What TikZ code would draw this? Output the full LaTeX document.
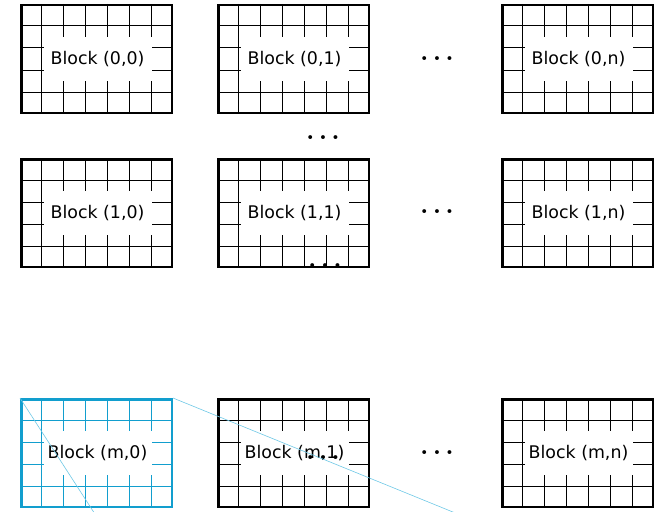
\documentclass[tikz,border=0pt]{standalone}
\usepackage{fontspec}
\newfontfamily\blockfont{DejaVu Sans}
\definecolor{selclr}{RGB}{18,158,206}
\definecolor{zoomclr}{RGB}{110,200,230}
\tikzset{
  cellline/.style={line width=1pt},
  blkframe/.style={draw,line width=2.5pt,minimum width=150.5pt,
                   minimum height=107.5pt,inner sep=0pt},
  blocklbl/.style={fill=white,inner sep=0pt,minimum width=108pt,
                   minimum height=44pt,font=\blockfont\fontsize{17.4}{20}\selectfont},
  gap/.style={anchor=base,inner sep=0pt,font=\fontsize{23.5}{28}\selectfont\boldmath},
  zoomline/.style={draw=zoomclr,line width=0.6pt},
}

\begin{document}
\begin{tikzpicture}[x=1pt,y=-1pt]
\useasboundingbox (0,0) rectangle (658,511);
% blocks: centre x / centre y / index / name / colour
\foreach \cx/\cy/\idx/\nm/\clr in {
    96.5/59/{0,0}/b00/black, 293.5/59/{0,1}/b01/black, 577.5/59/{0,n}/b0n/black,
    96.5/213/{1,0}/b10/black, 293.5/213/{1,1}/b11/black, 577.5/213/{1,n}/b1n/black,
    96.5/453/{m,0}/bm0/selclr, 293.5/453/{m,1}/bm1/black, 577.5/453/{m,n}/bmn/black}
{
  \foreach \i in {1,...,6}
    \draw[cellline,\clr] (\cx-76.5+\i*21.857,\cy-55) -- ++(0,110);
  \foreach \j in {1,...,4}
    \draw[cellline,\clr] (\cx-76.5,\cy-55+\j*22) -- ++(153,0);
  \node[blocklbl] (\nm) at (\cx+1,\cy) {Block (\idx)};
  \node[blkframe,draw=\clr] (f\nm) at (\cx,\cy) {};
}
% gaps
\node[gap] (d0) at (437,60.6) {$\ldots$};
\node[gap] (d1) at (323,139.6) {$\ldots$};
\node[gap] (d2) at (437,213.6) {$\ldots$};
\node[gap] (d3) at (325,267.6) {$\ldots$};
\node[gap] (d4) at (437,454.6) {$\ldots$};
\node[gap] (d5) at (323,459.6) {$\ldots$};
% zoom lines
\coordinate (zA) at (98.8,520);
\coordinate (zB) at (472.5,520);
\draw[zoomline] (fbm0.north west) -- (zA);
\draw[zoomline] (fbm0.north east) -- (zB);
\end{tikzpicture}
\end{document}
